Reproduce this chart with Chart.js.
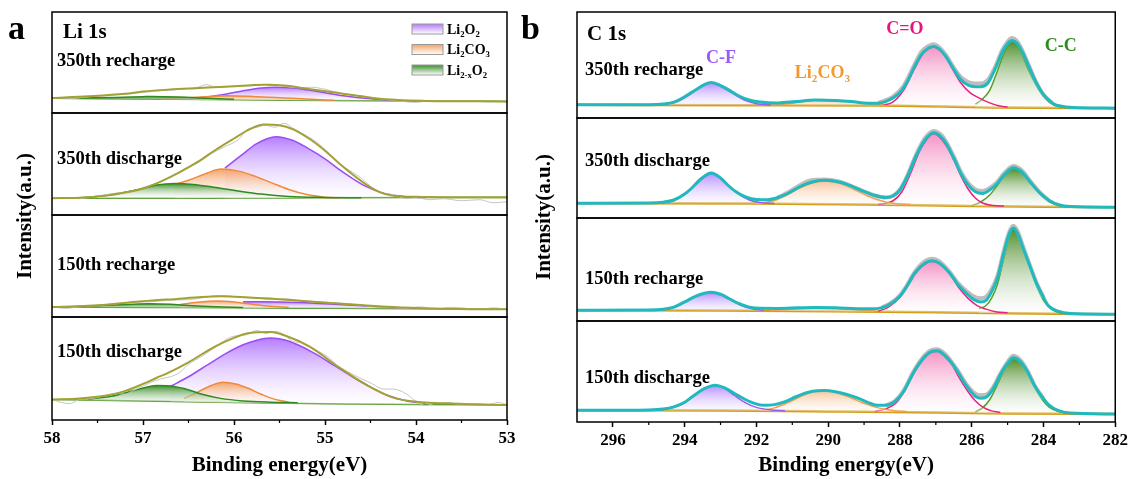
<!DOCTYPE html>
<html>
<head>
<meta charset="utf-8">
<script src="https://cdn.jsdelivr.net/npm/chart.js@4.4.0/dist/chart.umd.min.js"></script>
<style>
  html, body { margin: 0; padding: 0; background: #fff; }
  #wrap { position: relative; width: 1131px; height: 479px; }
  #boxA { position: absolute; left: 0; top: 0; }
  #boxB { position: absolute; left: 520px; top: 0; }
</style>
</head>
<body>
<div id="wrap">
  <div id="boxA"><canvas id="liChart" width="520" height="479"></canvas></div>
  <div id="boxB"><canvas id="cChart" width="611" height="479"></canvas></div>
</div>
<script>
// ---------- axis ticks ----------
const liTicks = [58, 57, 56, 55, 54, 53];
const liMinor = [57.5, 56.5, 55.5, 54.5, 53.5];
const cTicks = [296, 294, 292, 290, 288, 286, 284, 282];
const cMinor = [295, 293, 291, 289, 287, 285, 283];

const liNames = ['350th recharge', '350th discharge', '150th recharge', '150th discharge'];
const cNames = ['350th recharge', '350th discharge', '150th recharge', '150th discharge'];

// ---------- Li 1s : [binding energy, intensity (% of strip)] ----------
// 350th recharge
const liR350Base = [[58,14.6],[57,13.8],[56,13],[55,12.3],[54,11.8],[53,11.5]];
const liR350Env = [[58,14.8],[57.6,16.5],[57.2,19],[57.0,21.3],[56.7,23.3],[56.42,24.6],[56.1,26],[55.85,27.3],[55.67,27.9],[55.45,27.2],[55.16,23.6],[54.85,19.7],[54.6,16.5],[54.45,14.5],[54.2,12.8],[53.9,12],[53.5,11.7],[53,11.5]];
const liR350O2 = [[56.5,14],[56.2,17],[55.9,22],[55.7,24.8],[55.55,25.6],[55.35,24.8],[55.1,21.5],[54.8,17],[54.5,14],[54.2,12.5],[54.0,12]];
const liR350CO3 = [[56.8,14],[56.5,15.2],[56.2,16.6],[56.07,17],[55.8,16.4],[55.5,15.2],[55.2,13.8],[54.9,12.6]];
const liR350XO2 = [[57.7,14.8],[57.3,15.4],[57.0,16.2],[56.9,16.4],[56.6,15.8],[56.3,14.6],[56.0,13.6]];
const liR350Raw = [[58,15],[57.8,14.5],[57.6,16],[57.4,17.5],[57.2,18.5],[57.0,20.5],[56.8,22],[56.6,23.5],[56.4,25.5],[56.3,28],[56.2,25.5],[56.0,26.5],[55.8,27],[55.6,28.5],[55.45,26.5],[55.3,25],[55.15,25.5],[55.0,23.5],[54.85,20],[54.7,18],[54.55,16],[54.4,14],[54.2,12],[54.0,10.5],[53.85,12],[53.6,11.5],[53.4,12],[53.2,11],[53,11.5]];
// 350th discharge
const liD350Base = [[58,16.5],[57,16.4],[56,16.6],[55,16.9],[54,17.1],[53,17.2]];
const liD350Env = [[58,16.5],[57.7,17],[57.4,19],[57.2,22],[57.0,26],[56.8,33],[56.6,41.7],[56.4,52],[56.2,64],[56.0,75],[55.83,84],[55.67,88.7],[55.5,88],[55.35,84],[55.16,74],[55.0,63],[54.85,51],[54.7,40],[54.53,28.8],[54.4,22.5],[54.26,19],[54.0,17.8],[53.5,17.4],[53,17.3]];
const liD350O2 = [[56.1,46],[55.9,60],[55.75,70],[55.54,76.7],[55.35,73],[55.2,66],[55.0,55],[54.85,45],[54.7,36],[54.55,28],[54.35,21],[54.1,17.8],[53.9,17]];
const liD350CO3 = [[56.65,30],[56.5,34],[56.3,41],[56.14,45],[55.95,43],[55.8,39],[55.6,32],[55.4,25],[55.2,20],[55.0,17.5],[54.85,16.8]];
const liD350XO2 = [[57.9,16.5],[57.6,17.5],[57.3,20.5],[57.05,25],[56.85,29.5],[56.65,31],[56.45,30],[56.2,27],[55.95,23.5],[55.7,20.5],[55.4,18.2],[55.0,17.2],[54.6,16.8]];
const liD350Raw = [[58,16],[57.85,17],[57.7,16],[57.55,18],[57.4,20],[57.25,22],[57.1,23],[57.0,27],[56.85,31],[56.7,37],[56.55,45],[56.4,51],[56.25,60],[56.1,67],[55.95,74],[55.85,84],[55.75,86],[55.65,88],[55.55,86],[55.45,90],[55.35,85],[55.25,80],[55.1,72],[54.95,60],[54.85,51],[54.7,42],[54.6,36],[54.5,28],[54.4,22],[54.25,20],[54.1,16],[54.0,17],[53.85,15],[53.7,16],[53.5,14],[53.3,15],[53.15,12],[53,13]];
// 150th recharge
const liR150Base = [[58,9.8],[57,9.4],[56,9],[55,8.5],[54,8],[53,7.5]];
const liR150Env = [[58,9.8],[57.6,11],[57.3,13],[57.01,15.4],[56.6,18],[56.4,19.3],[56.14,20.3],[55.83,19],[55.5,17.5],[55.24,15.7],[54.9,13.5],[54.65,12],[54.26,9.8],[53.8,8.3],[53.4,7.7],[53,7.5]];
const liR150O2 = [[55.9,15],[55.7,15],[55.5,14.8],[55.2,14],[54.9,12.5],[54.6,11],[54.3,9.5],[54.0,8.6]];
const liR150CO3 = [[56.6,12],[56.4,14.5],[56.18,15.7],[56.0,14.8],[55.8,12.5],[55.6,10.5],[55.4,9.5]];
const liR150XO2 = [[57.8,10],[57.4,11.5],[57.1,12.5],[56.93,13],[56.7,12.5],[56.5,11.3],[56.2,10],[55.9,9.3]];
const liR150Raw = [[58,10],[57.85,8.5],[57.7,10],[57.5,11.5],[57.3,13],[57.1,14.5],[56.9,15],[56.7,16.5],[56.5,17],[56.3,19.5],[56.2,21],[56.05,20.5],[55.9,19],[55.75,18.5],[55.6,17],[55.45,18],[55.3,16.5],[55.1,15],[54.9,14],[54.7,12.5],[54.5,10.5],[54.3,9.5],[54.1,8.5],[53.95,10],[53.8,8],[53.6,9.5],[53.45,8.5],[53.3,7.5],[53.15,9],[53,7.5]];
// 150th discharge
const liD150Base = [[58,19.8],[57,18.5],[56,17],[55,15.8],[54,15],[53,14.6]];
const liD150Env = [[58,19.8],[57.7,20.8],[57.4,23.7],[57.2,28],[57.0,35],[56.85,41],[56.73,45.5],[56.5,56],[56.22,70.8],[56.02,79],[55.83,84.4],[55.6,85.4],[55.44,82],[55.16,70.8],[54.85,51.3],[54.53,33.4],[54.26,22],[54.02,17.9],[53.47,15.6],[53,14.6]];
const liD150O2 = [[56.7,32.5],[56.5,42],[56.3,53],[56.1,64],[55.9,73],[55.75,77.5],[55.6,79.5],[55.45,78],[55.3,73],[55.1,64],[54.9,53],[54.7,42],[54.5,32],[54.3,23.5],[54.1,18.5],[53.9,16.3]];
const liD150CO3 = [[56.55,21],[56.4,27],[56.25,33.5],[56.12,36.7],[55.98,35],[55.85,31],[55.7,25],[55.55,20],[55.4,17.5]];
const liD150XO2 = [[57.6,20.5],[57.35,23],[57.15,27.5],[57.0,31],[56.85,33.4],[56.7,33],[56.55,30.5],[56.35,25],[56.15,21],[55.9,18.5],[55.6,17.3],[55.3,16.8]];
const liD150Raw = [[58,20],[57.9,17],[57.8,16],[57.7,20],[57.55,21],[57.4,24],[57.3,26],[57.2,25],[57.1,29],[57.0,33],[56.9,37],[56.8,40],[56.7,42],[56.6,46],[56.5,54],[56.35,62],[56.2,71],[56.05,80],[55.95,82],[55.85,83],[55.75,87],[55.65,84],[55.55,86],[55.45,83],[55.35,76],[55.25,75],[55.1,68],[54.95,60],[54.85,52],[54.75,47],[54.6,40],[54.5,36],[54.35,30],[54.25,30],[54.1,25],[54.0,18],[53.9,14],[53.8,16],[53.65,17],[53.5,15],[53.35,16],[53.2,15],[53.1,17],[53,15]];

// ---------- C 1s ----------
// 350th recharge
const cR350Base = [[297,12.4],[292,12],[288.6,11.8],[285.3,9.9],[282,9.3]];
const cR350Env = [[297,12.4],[295,12.6],[294.6,13.2],[294.3,15],[294.0,20],[293.7,26.5],[293.45,31.5],[293.26,33.4],[293.05,31.5],[292.8,27],[292.5,21],[292.2,17],[291.9,15],[291.4,14.2],[290.9,15.5],[290.36,17],[289.8,16.5],[289.35,15.5],[288.9,14],[288.6,14],[288.3,17],[288.0,24],[287.8,34],[287.6,48],[287.4,60],[287.2,66],[287.06,67.5],[286.9,65],[286.7,57],[286.5,46],[286.3,36],[286.1,31],[285.9,29.5],[285.75,29.4],[285.55,33],[285.35,46],[285.15,62],[285.0,70],[284.88,73],[284.75,71],[284.6,63],[284.4,48],[284.2,33],[284.0,22],[283.75,14],[283.45,10.8],[283.0,9.6],[282,9.3]];
const cR350CF = [[294.6,12.8],[294.2,15.5],[293.9,21],[293.6,28.5],[293.26,33],[292.95,29],[292.6,22],[292.3,16.5],[292.0,13.5],[291.6,12.2]];
const cR350CO3 = [[291.6,12.1],[291.1,13.5],[290.6,16],[290.2,17.5],[289.8,17],[289.3,15],[288.8,13],[288.4,11.9]];
const cR350CO = [[288.5,11.9],[288.2,15],[287.9,26],[287.6,46],[287.35,61],[287.06,67],[286.8,61],[286.55,47],[286.3,33],[286.05,24],[285.8,19],[285.55,15],[285.25,11.5],[285.0,10.3]];
const cR350CC = [[285.9,13],[285.7,18],[285.5,26],[285.3,43],[285.1,61],[284.88,72.5],[284.65,64],[284.45,48],[284.2,31],[283.95,18.5],[283.7,12],[283.4,10]];
const cR350Raw = [[288.6,14.2],[288.2,20],[287.9,30],[287.6,50],[287.4,62.5],[287.2,68],[287.06,69.5],[286.9,66.5],[286.7,58.5],[286.5,47.5],[286.3,38.5],[286.1,34],[285.9,32.5],[285.75,32.5],[285.55,36],[285.35,48],[285.15,64],[285.0,72],[284.88,75.5],[284.75,73],[284.6,64.5],[284.4,49],[284.2,33.5],[284.0,22],[283.75,14]];
// 350th discharge
const cD350Base = [[297,14.8],[292,14.5],[289,13.5],[286,12],[284,11.2],[282,10.8]];
const cD350Env = [[297,14.8],[295,15],[294.6,15.8],[294.3,18],[294.0,24],[293.8,30],[293.55,39],[293.26,44.9],[293.0,40],[292.8,33],[292.6,27],[292.3,21],[292.0,18.5],[291.7,18.3],[291.4,20.5],[291.1,25],[290.8,31],[290.5,35.5],[290.1,37.7],[289.7,36],[289.35,31.8],[289.0,26.5],[288.7,22.5],[288.4,20.5],[288.2,22],[288.0,28],[287.8,41],[287.55,62],[287.3,78],[287.06,85.2],[286.85,81],[286.7,73.8],[286.5,60],[286.3,44.3],[286.1,33],[285.9,26.2],[285.7,24.5],[285.5,28],[285.3,34],[285.1,43],[284.84,50.2],[284.6,46],[284.37,36],[284.1,25],[283.86,18],[283.55,13],[283.25,11.5],[282,10.8]];
const cD350CF = [[294.7,14.8],[294.3,17.5],[294.0,23.5],[293.7,33],[293.45,41],[293.26,44.5],[293.05,41],[292.8,33],[292.5,24],[292.2,18],[291.9,15.5],[291.5,14.6]];
const cD350CO3 = [[292.0,14.6],[291.6,16.5],[291.2,22],[290.8,30],[290.4,35.5],[290.1,37],[289.7,35],[289.3,29],[288.9,22],[288.5,17],[288.1,14.2],[287.7,13.5]];
const cD350CO = [[288.6,13.6],[288.2,17],[287.95,26],[287.7,45],[287.45,67],[287.2,81],[287.06,84.5],[286.9,81],[286.7,72],[286.5,58],[286.3,42],[286.1,29],[285.9,20],[285.7,15],[285.4,12.5],[285.1,12]];
const cD350CC = [[286.0,12.2],[285.75,16],[285.5,23],[285.3,32],[285.1,42],[284.84,49.5],[284.6,45],[284.37,35],[284.1,24],[283.85,16.5],[283.55,12.3],[283.3,11.3]];
const cD350Raw = [[291.4,20.5],[291.1,26],[290.8,32.5],[290.5,37.5],[290.1,38.5],[289.7,36.5],[289.35,32],[289.0,26.5],[288.7,22.5],[288.4,20.5],[288.2,22],[288.0,28.5],[287.8,42],[287.55,63.5],[287.3,80],[287.06,87],[286.85,83],[286.7,75.5],[286.5,61.5],[286.3,46],[286.1,35],[285.9,28.5],[285.7,27],[285.5,30],[285.3,35.5],[285.1,44.5],[284.84,52],[284.6,47.5],[284.37,37],[284.1,25.5],[283.86,18]];
// 150th recharge
const cR150Base = [[297,10.5],[293,10.2],[290,9.5],[287,8.5],[285,7.5],[282,6.6]];
const cR150Env = [[297,10.5],[295,10.8],[294.6,11.5],[294.3,13.5],[294.0,18.5],[293.7,24],[293.45,27],[293.26,27.9],[293.0,26],[292.8,22.5],[292.5,17],[292.2,13.5],[291.9,12.3],[291.4,12.2],[290.8,12.8],[290.36,13.1],[289.8,12.8],[289.2,12],[288.8,11.8],[288.5,13],[288.25,17],[288.0,24],[287.8,34],[287.6,45.9],[287.35,55],[287.1,58.4],[286.9,56],[286.6,45.9],[286.4,36],[286.15,27],[285.95,21],[285.75,18.5],[285.6,20],[285.45,28],[285.28,42],[285.1,67],[284.96,84],[284.84,90.2],[284.72,85],[284.55,69],[284.37,52.5],[284.2,37],[284.0,23],[283.86,14.8],[283.6,9.5],[283.25,7.2],[282,6.6]];
const cR150CF = [[294.7,10.6],[294.3,13],[294.0,18],[293.7,23.5],[293.45,26.8],[293.26,27.5],[293.0,25.5],[292.75,21],[292.45,15.5],[292.15,12],[291.8,10.4]];
const cR150CO3 = [[291.6,10.1],[291.0,11.5],[290.4,12.6],[289.8,12.2],[289.2,11],[288.7,9.6]];
const cR150CO = [[288.6,9.5],[288.3,14],[288.0,23],[287.75,36],[287.5,49],[287.25,56.5],[287.1,58],[286.9,56],[286.6,45],[286.35,32],[286.1,22],[285.85,15],[285.6,11.5],[285.3,8.8],[285.0,8]];
const cR150CC = [[285.8,12],[285.6,15],[285.45,22],[285.28,36],[285.1,62],[284.96,81],[284.84,89.5],[284.72,84],[284.55,68],[284.37,51],[284.2,35],[284.0,20],[283.8,12],[283.55,8],[283.3,7.1]];
const cR150Raw = [[288.5,13],[288.25,17.5],[288.0,25],[287.8,35],[287.6,47],[287.35,57],[287.1,60.5],[286.9,58],[286.6,47],[286.4,37.5],[286.15,29],[285.95,24],[285.75,22],[285.6,23.5],[285.45,30.5],[285.28,44],[285.1,69],[284.96,86],[284.84,92.5],[284.72,87],[284.55,70.5],[284.37,53.5],[284.2,37.5],[284.0,23]];
// 150th discharge
const cD150Base = [[297,11.6],[293,11.3],[290,10.5],[287,9.5],[285,8.5],[282,7.9]];
const cD150Env = [[297,11.6],[295,12],[294.6,12.8],[294.3,15],[294.0,19.5],[293.75,26],[293.45,33],[293.15,36.4],[292.9,34],[292.6,28],[292.4,24],[292.1,19],[291.8,16.6],[291.5,17.2],[291.18,20.5],[290.9,25],[290.6,29],[290.3,31],[290.1,31.1],[289.8,30],[289.5,27.5],[289.2,24],[288.9,19.5],[288.64,16.6],[288.4,16.5],[288.13,20.5],[287.9,30],[287.6,50.3],[287.3,65],[287.1,70],[286.96,70.5],[286.75,66],[286.55,58],[286.4,50.3],[286.15,36],[285.9,25.5],[285.75,23.5],[285.6,24.5],[285.4,33],[285.2,47],[285.0,58],[284.84,63.6],[284.65,60],[284.45,50],[284.25,36],[284.0,23],[283.86,17.2],[283.6,11.5],[283.25,8.9],[282,7.9]];
const cD150CF = [[294.7,11.7],[294.3,14.5],[294.0,19],[293.7,27],[293.4,34],[293.15,36],[292.9,33.5],[292.6,26],[292.3,19],[292.0,14.5],[291.6,12],[291.2,11.2]];
const cD150CO3 = [[291.9,11.2],[291.5,14],[291.1,19.5],[290.7,26.5],[290.35,30.5],[290.1,31],[289.8,29.5],[289.4,24.5],[289.0,18.5],[288.6,14],[288.2,11.5],[287.8,10.2]];
const cD150CO = [[288.7,10.3],[288.4,13],[288.1,19],[287.85,32],[287.6,49],[287.3,64],[287.1,69.5],[286.96,70],[286.75,65],[286.55,56.5],[286.35,44],[286.1,30],[285.9,21],[285.7,15],[285.45,11],[285.2,9.5]];
const cD150CC = [[285.9,10],[285.7,14],[285.5,22],[285.3,36],[285.1,51],[284.95,60],[284.84,63],[284.65,59],[284.45,49],[284.25,35],[284.05,23],[283.85,15],[283.6,10.5],[283.3,8.6]];
const cD150Raw = [[288.4,16.5],[288.13,21],[287.9,31],[287.6,51.5],[287.3,66.5],[287.1,71.5],[286.96,72],[286.75,67.5],[286.55,59],[286.4,51.5],[286.15,37.5],[285.9,28],[285.75,26.5],[285.6,27],[285.4,34.5],[285.2,48],[285.0,59.5],[284.84,65.5],[284.65,61.5],[284.45,51],[284.25,36.5],[284.0,23]];

// ---------- styles ----------
const FAM = '"Times New Roman", "Liberation Serif", serif';
Chart.defaults.font.family = FAM;
Chart.defaults.color = '#000';

const liStyle = { base: '#5a9a30', baseW: 1.5, compW: 1.5, raw: '#c6c6c6', rawW: 1, env: '#a3a133', envW: 2 };
const cStyle = { base: '#d39e1c', baseW: 2.5, compW: 1.5, raw: '#bdbdbd', rawW: 4, env: '#20b9bd', envW: 3 };
const liO2 = ['#9b4cf2', '#b57cff'];
const liCO3 = ['#f08a3a', '#f4a268'];
const liXO2 = ['#2e8b22', '#3d8f2b'];
const cCF = ['#9a5cf5', '#b890ff'];
const cCO3 = ['#f0a050', '#f7c49a'];
const cCO = ['#e8207f', '#f492c4'];
const cCC = ['#5a9e28', '#4f8f2a'];

function pts(a) { return a.map(p => ({ x: p[0], y: p[1] })); }

// vertical gradient from colour at peak height to white at the baseline
function shade(col, yId, top, floor) {
  return function (c) {
    const ch = c.chart;
    if (!ch.chartArea || !ch.scales[yId]) return col;
    const s = ch.scales[yId];
    const g = ch.ctx.createLinearGradient(0, s.getPixelForValue(top), 0, s.getPixelForValue(floor));
    g.addColorStop(0, col);
    g.addColorStop(1, 'rgba(255,255,255,0.3)');
    return g;
  };
}

function strip(list, yId, base, comps, raw, env, st) {
  const bi = list.length;
  list.push({ data: pts(base), yAxisID: yId, borderColor: st.base, borderWidth: st.baseW, order: 3 });
  const floor = Math.min(...base.map(p => p[1]));
  comps.forEach(([arr, c]) => {
    const top = Math.max(...arr.map(p => p[1]));
    list.push({ data: pts(arr), yAxisID: yId, borderColor: c[0], borderWidth: st.compW, order: 2,
      fill: bi, backgroundColor: shade(c[1], yId, top, floor) });
  });
  list.push({ data: pts(raw), yAxisID: yId, borderColor: st.raw, borderWidth: st.rawW, order: 1 });
  list.push({ data: pts(env), yAxisID: yId, borderColor: st.env, borderWidth: st.envW, order: 0 });
}

const liSets = [];
strip(liSets, 's1', liR350Base, [[liR350XO2, liXO2], [liR350CO3, liCO3], [liR350O2, liO2]], liR350Raw, liR350Env, liStyle);
strip(liSets, 's2', liD350Base, [[liD350XO2, liXO2], [liD350CO3, liCO3], [liD350O2, liO2]], liD350Raw, liD350Env, liStyle);
strip(liSets, 's3', liR150Base, [[liR150XO2, liXO2], [liR150CO3, liCO3], [liR150O2, liO2]], liR150Raw, liR150Env, liStyle);
strip(liSets, 's4', liD150Base, [[liD150XO2, liXO2], [liD150CO3, liCO3], [liD150O2, liO2]], liD150Raw, liD150Env, liStyle);

const cSets = [];
strip(cSets, 's1', cR350Base, [[cR350CF, cCF], [cR350CO3, cCO3], [cR350CO, cCO], [cR350CC, cCC]], cR350Raw, cR350Env, cStyle);
strip(cSets, 's2', cD350Base, [[cD350CF, cCF], [cD350CO3, cCO3], [cD350CO, cCO], [cD350CC, cCC]], cD350Raw, cD350Env, cStyle);
strip(cSets, 's3', cR150Base, [[cR150CF, cCF], [cR150CO3, cCO3], [cR150CO, cCO], [cR150CC, cCC]], cR150Raw, cR150Env, cStyle);
strip(cSets, 's4', cD150Base, [[cD150CF, cCF], [cD150CO3, cCO3], [cD150CO, cCO], [cD150CC, cCC]], cD150Raw, cD150Env, cStyle);

// text with subscripts: parts = [[text, isSub], ...]
function rich(ctx, parts, x, y, size, color, align) {
  ctx.fillStyle = color;
  ctx.textBaseline = 'alphabetic';
  ctx.textAlign = 'left';
  let w = 0;
  parts.forEach(([t, sub]) => { ctx.font = 'bold ' + (sub ? size * 0.62 : size) + 'px ' + FAM; w += ctx.measureText(t).width; });
  if (align === 'center') x -= w / 2;
  parts.forEach(([t, sub]) => {
    ctx.font = 'bold ' + (sub ? size * 0.62 : size) + 'px ' + FAM;
    ctx.fillText(t, x, y + (sub ? size * 0.22 : 0));
    x += ctx.measureText(t).width;
  });
}

const deco = {
  id: 'deco',
  beforeDraw(ch) {
    const c = ch.ctx;
    c.save(); c.fillStyle = '#fff'; c.fillRect(0, 0, ch.width, ch.height); c.restore();
  },
  afterDraw(ch, args, o) {
    const { ctx, chartArea: ca } = ch;
    const xs = ch.scales.x;
    ctx.save();
    ctx.strokeStyle = '#000';
    ctx.lineWidth = 1.5;
    const ids = ['s1', 's2', 's3', 's4'];
    ids.forEach(id => {
      const s = ch.scales[id];
      ctx.strokeRect(ca.left, s.top, ca.right - ca.left, s.bottom - s.top);
    });
    ctx.lineWidth = 1.2;
    o.minor.forEach(v => {
      const px = xs.getPixelForValue(v);
      ctx.beginPath(); ctx.moveTo(px, ca.bottom); ctx.lineTo(px, ca.bottom + 3); ctx.stroke();
    });
    // strip names
    ids.forEach((id, i) => {
      rich(ctx, [[o.names[i], 0]], ca.left + o.nameDx, ch.scales[id].getPixelForValue(o.nameY[i]), 18.5, '#000');
    });
    rich(ctx, [[o.head, 0]], ca.left + o.headDx, ch.scales.s1.getPixelForValue(74), 21, '#000');
    // panel letter
    ctx.font = 'bold 34px ' + FAM; ctx.fillStyle = '#000'; ctx.textAlign = 'left';
    ctx.fillText(o.letter, o.letterX, 39);
    // y title
    ctx.save();
    ctx.translate(o.yTitleX, (ca.top + ca.bottom) / 2);
    ctx.rotate(-Math.PI / 2);
    ctx.font = 'bold 21px ' + FAM; ctx.textAlign = 'center'; ctx.textBaseline = 'middle';
    ctx.fillText('Intensity(a.u.)', 0, 0);
    ctx.restore();
    // peak labels
    (o.peaks || []).forEach(p => {
      rich(ctx, p.parts, xs.getPixelForValue(p.x), ch.scales.s1.getPixelForValue(p.y), 18, p.color, 'center');
    });
    // legend
    (o.legend || []).forEach((l, i) => {
      const bx = ca.right - 95, by = ca.top + 12 + i * 20.5;
      const g = ctx.createLinearGradient(0, by, 0, by + 10);
      g.addColorStop(0, l.color); g.addColorStop(1, '#ffffff');
      ctx.fillStyle = g; ctx.fillRect(bx, by, 31, 10);
      ctx.strokeStyle = '#9a9a9a'; ctx.lineWidth = 1; ctx.strokeRect(bx, by, 31, 10);
      rich(ctx, l.parts, ca.right - 60, by + 9.5, 14, '#000');
    });
    ctx.restore();
  }
};

function yStrips(weights) {
  const s = {};
  // left stacked axes are laid out last-first, so define bottom strip first
  ['s4', 's3', 's2', 's1'].forEach(id => {
    s[id] = { type: 'linear', position: 'left', stack: 'v', stackWeight: weights[id], min: 0, max: 100,
      grid: { display: false, drawTicks: false }, ticks: { display: false }, border: { display: false },
      afterFit: sc => { sc.width = 0; } };
  });
  return s;
}

function xAxis(min, max, ticks, h) {
  return { type: 'linear', min: min, max: max, reverse: true,
    afterFit: sc => { sc.height = h; },
    afterBuildTicks: sc => { sc.ticks = ticks.map(v => ({ value: v })); },
    ticks: { color: '#000', font: { size: 17, weight: 'bold' }, padding: 3, maxRotation: 0, autoSkip: false },
    grid: { display: true, drawOnChartArea: false, drawTicks: true, tickLength: 5, tickColor: '#000', tickWidth: 1.5 },
    border: { display: false },
    title: { display: true, text: 'Binding energy(eV)', color: '#000', font: { size: 21, weight: 'bold' }, padding: { top: 2, bottom: 1 } } };
}

const common = {
  responsive: false,
  animation: false,
  elements: { point: { radius: 0 }, line: { cubicInterpolationMode: 'monotone', fill: false } },
};

new Chart(document.getElementById('liChart'), {
  type: 'line',
  data: { datasets: liSets },
  options: Object.assign({}, common, {
    layout: { padding: { left: 52, right: 13, top: 12, bottom: 0 } },
    scales: Object.assign({ x: xAxis(53, 58, liTicks, 59) }, yStrips({ s1: 101, s2: 102, s3: 102, s4: 103 })),
    plugins: {
      legend: { display: false }, tooltip: { enabled: false },
      deco: {
        minor: liMinor, names: liNames, nameDx: 5, nameY: [46.5, 50, 46, 61],
        head: 'Li 1s', headDx: 11, letter: 'a', letterX: 8, yTitleX: 26,
        legend: [
          { color: '#b57cff', parts: [['Li', 0], ['2', 1], ['O', 0], ['2', 1]] },
          { color: '#f4a268', parts: [['Li', 0], ['2', 1], ['CO', 0], ['3', 1]] },
          { color: '#3d8f2b', parts: [['Li', 0], ['2-x', 1], ['O', 0], ['2', 1]] }
        ]
      }
    }
  }),
  plugins: [deco]
});

new Chart(document.getElementById('cChart'), {
  type: 'line',
  data: { datasets: cSets },
  options: Object.assign({}, common, {
    layout: { padding: { left: 57, right: 15, top: 12, bottom: 0 } },
    scales: Object.assign({ x: xAxis(282, 297, cTicks, 57) }, yStrips({ s1: 106, s2: 100, s3: 103, s4: 101 })),
    plugins: {
      legend: { display: false }, tooltip: { enabled: false },
      deco: {
        minor: cMinor, names: cNames, nameDx: 8, nameY: [40.6, 52, 36, 39],
        head: 'C 1s', headDx: 10, letter: 'b', letterX: 1, yTitleX: 25,
        peaks: [
          { parts: [['C-F', 0]], color: '#9b59f5', x: 292.99, y: 51.9 },
          { parts: [['Li', 0], ['2', 1], ['CO', 0], ['3', 1]], color: '#f39a2e', x: 290.16, y: 37.7 },
          { parts: [['C=O', 0]], color: '#e8137f', x: 287.86, y: 79 },
          { parts: [['C-C', 0]], color: '#2e8b1a', x: 283.52, y: 63 }
        ]
      }
    }
  }),
  plugins: [deco]
});
</script>
</body>
</html>
